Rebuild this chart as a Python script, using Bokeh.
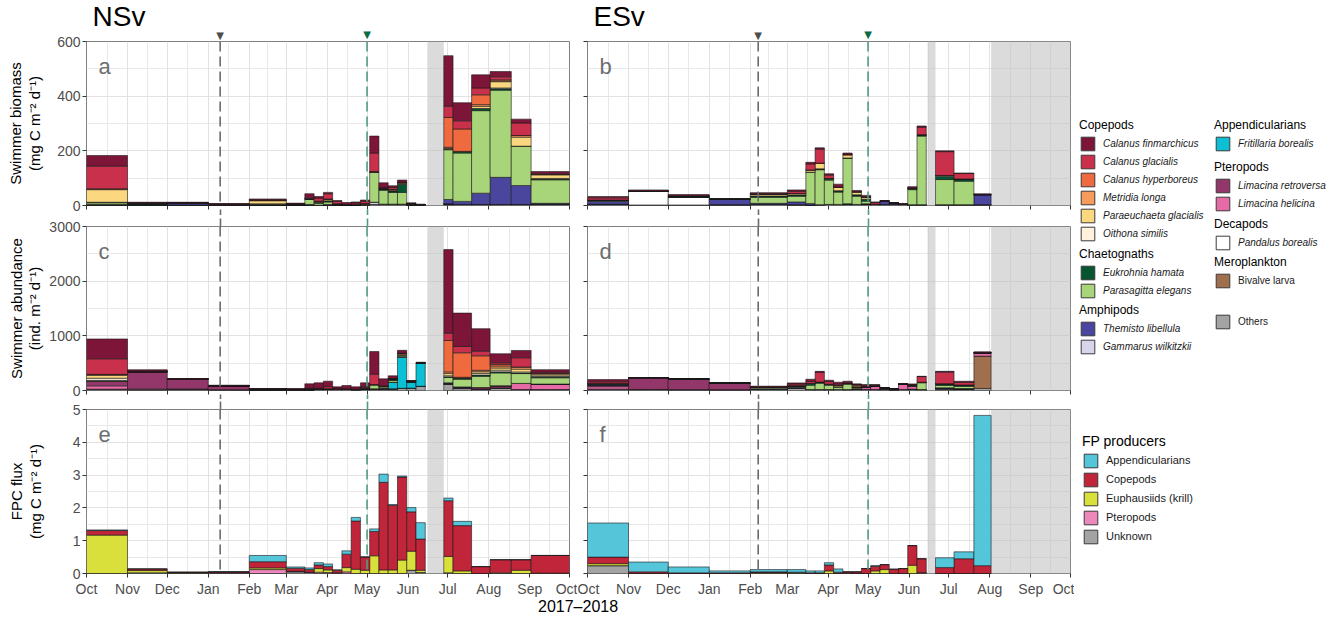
import numpy as np
import pandas as pd
from bokeh.plotting import figure
from bokeh.models import (ColumnDataSource, Range1d, FixedTicker, DatetimeTickFormatter,
                          Label, BoxAnnotation, Span, Legend, LegendItem, Div, LinearAxis,
                          CustomJSTickFormatter)
from bokeh.layouts import row, column
from bokeh.embed import file_html
from bokeh.resources import INLINE

FONT = "Liberation Sans"

# ---------------------------------------------------------------- data
X_START, X_END = "2017-10-01", "2018-10-01"

NSV_START = ["2017-10-01", "2017-11-01", "2017-12-01", "2018-01-01", "2018-02-01", "2018-03-01",
             "2018-03-15", "2018-03-22", "2018-03-29", "2018-04-05", "2018-04-12", "2018-04-19",
             "2018-04-26", "2018-05-03", "2018-05-10", "2018-05-17", "2018-05-24", "2018-05-31",
             "2018-06-07", "2018-06-28", "2018-07-05", "2018-07-19", "2018-08-02", "2018-08-18",
             "2018-09-02"]
NSV_END = ["2017-11-01", "2017-12-01", "2018-01-01", "2018-02-01", "2018-03-01", "2018-03-15",
           "2018-03-22", "2018-03-29", "2018-04-05", "2018-04-12", "2018-04-19", "2018-04-26",
           "2018-05-03", "2018-05-10", "2018-05-17", "2018-05-24", "2018-05-31", "2018-06-07",
           "2018-06-14", "2018-07-05", "2018-07-19", "2018-08-02", "2018-08-18", "2018-09-02",
           "2018-10-01"]
ESV_START = ["2017-10-01", "2017-11-01", "2017-12-01", "2018-01-01", "2018-02-01", "2018-03-01",
             "2018-03-15", "2018-03-22", "2018-03-29", "2018-04-05", "2018-04-12", "2018-04-19",
             "2018-04-26", "2018-05-03", "2018-05-10", "2018-05-17", "2018-05-24", "2018-05-31",
             "2018-06-07", "2018-06-21", "2018-07-05", "2018-07-20"]
ESV_END = ["2017-11-01", "2017-12-01", "2018-01-01", "2018-02-01", "2018-03-01", "2018-03-15",
           "2018-03-22", "2018-03-29", "2018-04-05", "2018-04-12", "2018-04-19", "2018-04-26",
           "2018-05-03", "2018-05-10", "2018-05-17", "2018-05-24", "2018-05-31", "2018-06-07",
           "2018-06-14", "2018-07-05", "2018-07-20", "2018-08-02"]

NSV_LINES = [("2018-01-10", "#6b6b6b", "#4d4d4d"), ("2018-05-01", "#4f9c80", "#0b6b45")]
ESV_LINES = [("2018-02-07", "#6b6b6b", "#4d4d4d"), ("2018-05-01", "#4f9c80", "#0b6b45")]
NSV_NODATA = [("2018-06-16", "2018-06-28")]
ESV_NODATA = [("2018-06-15", "2018-06-21"), ("2018-08-02", "2018-10-01")]

SPECIES = ["Calanus finmarchicus", "Calanus glacialis", "Calanus hyperboreus", "Metridia longa",
           "Paraeuchaeta glacialis", "Oithona similis", "Eukrohnia hamata", "Parasagitta elegans",
           "Themisto libellula", "Gammarus wilkitzkii", "Fritillaria borealis",
           "Limacina retroversa", "Limacina helicina", "Pandalus borealis", "Bivalve larva", "Others"]
SPECIES_COLORS = ["#7d1538", "#c9304b", "#ef6a3f", "#f59c5c", "#fbd87f", "#fff1dc", "#075530",
                  "#a8d47a", "#4b469d", "#d8d5ea", "#0bbfd4", "#93366a", "#e56aa6", "#ffffff",
                  "#a0704e", "#a3a3a3"]

FP_GROUPS = ["Appendicularians", "Copepods", "Euphausiids (krill)", "Pteropods", "Unknown"]
FP_COLORS = ["#55c5da", "#c0253a", "#d9e03c", "#ec88bb", "#a3a3a3"]

NSV_BIOMASS = {
    "Calanus finmarchicus": [39, 3, 2, 3, 3, 3, 15, 6, 5, 3, 7, 4, 5, 62, 17, 6, 8, 3, 2, 185, 66, 48, 19, 14, 8],
    "Calanus glacialis": [83, 0, 0, 0, 3, 0, 3, 11, 19, 9, 2, 5, 8, 68, 3, 7, 2, 0, 0, 41, 30, 25, 11, 46, 3],
    "Calanus hyperboreus": [0, 0, 0, 0, 0, 0, 0, 0, 0, 0, 0, 0, 0, 0, 0, 0, 0, 0, 0, 109, 82, 36, 4, 0, 0],
    "Metridia longa": [3, 2, 0, 0, 0, 0, 0, 2, 2, 0, 0, 0, 0, 2, 0, 3, 0, 0, 0, 4, 0, 6, 3, 6, 0],
    "Paraeuchaeta glacialis": [46, 0, 0, 0, 12, 0, 0, 3, 5, 0, 0, 0, 2, 0, 3, 3, 5, 0, 0, 3, 0, 8, 23, 33, 14],
    "Oithona similis": [0, 0, 0, 0, 0, 0, 0, 0, 0, 0, 0, 0, 0, 0, 0, 0, 0, 0, 0, 0, 0, 0, 3, 0, 2],
    "Eukrohnia hamata": [2, 3, 0, 0, 0, 2, 3, 3, 4, 2, 0, 2, 2, 0, 4, 5, 30, 3, 0, 2, 6, 8, 5, 0, 3],
    "Parasagitta elegans": [6, 0, 0, 0, 4, 2, 18, 7, 9, 2, 0, 0, 0, 110, 51, 43, 43, 2, 0, 182, 177, 302, 319, 144, 86],
    "Themisto libellula": [2, 2, 8, 2, 0, 0, 2, 0, 2, 0, 0, 0, 0, 0, 0, 0, 0, 0, 0, 16, 11, 41, 99, 69, 3],
    "Gammarus wilkitzkii": [0, 0, 0, 0, 0, 0, 0, 0, 0, 0, 0, 0, 0, 8, 0, 0, 0, 0, 0, 0, 0, 0, 0, 0, 0],
    "Others": [2, 2, 2, 2, 2, 1.5, 2, 1, 2, 2, 2, 2, 3, 4, 5, 5, 5, 2, 3, 6, 4, 4, 4, 4, 5],
}
NSV_ABUND = {
    "Calanus finmarchicus": [363, 25, 10, 8, 10, 8, 80, 100, 100, 30, 60, 40, 70, 414, 128, 49, 55, 15, 10, 1530, 611, 411, 164, 133, 48],
    "Calanus glacialis": [285, 5, 0, 0, 0, 0, 10, 10, 40, 15, 10, 10, 20, 190, 10, 0, 0, 0, 0, 133, 115, 85, 30, 169, 20],
    "Calanus hyperboreus": [0, 0, 0, 0, 0, 0, 0, 0, 0, 0, 0, 0, 0, 0, 0, 0, 0, 0, 0, 575, 448, 266, 30, 0, 0],
    "Metridia longa": [20, 0, 0, 0, 0, 0, 0, 0, 0, 0, 0, 0, 0, 0, 0, 0, 20, 0, 0, 30, 10, 25, 36, 40, 15],
    "Paraeuchaeta glacialis": [50, 0, 0, 0, 5, 0, 0, 0, 0, 0, 0, 0, 0, 0, 0, 10, 20, 0, 0, 40, 10, 30, 40, 50, 30],
    "Oithona similis": [40, 0, 0, 0, 0, 0, 0, 0, 0, 0, 0, 0, 0, 0, 0, 0, 0, 0, 0, 20, 0, 30, 30, 20, 15],
    "Eukrohnia hamata": [5, 5, 0, 0, 6, 5, 8, 10, 0, 0, 0, 0, 0, 5, 10, 26, 10, 15, 0, 10, 16, 24, 20, 10, 20],
    "Parasagitta elegans": [10, 0, 0, 0, 0, 5, 12, 0, 10, 0, 0, 0, 20, 73, 25, 33, 20, 0, 0, 100, 140, 206, 236, 180, 115],
    "Themisto libellula": [5, 5, 0, 0, 0, 0, 0, 0, 0, 0, 0, 0, 0, 0, 0, 0, 0, 0, 0, 10, 10, 0, 0, 0, 0],
    "Gammarus wilkitzkii": [0, 0, 0, 0, 0, 0, 0, 0, 0, 0, 0, 0, 0, 5, 0, 0, 0, 0, 0, 0, 0, 0, 0, 0, 0],
    "Fritillaria borealis": [0, 0, 0, 0, 0, 0, 0, 0, 0, 0, 0, 0, 0, 0, 10, 120, 570, 110, 430, 0, 0, 0, 0, 0, 0],
    "Limacina retroversa": [80, 310, 180, 75, 5, 0, 0, 0, 0, 0, 0, 0, 0, 0, 0, 0, 0, 0, 0, 10, 10, 30, 40, 0, 0],
    "Limacina helicina": [60, 15, 10, 0, 0, 0, 0, 0, 0, 0, 0, 0, 0, 0, 0, 0, 0, 0, 0, 10, 10, 0, 0, 112, 100],
    "Others": [25, 15, 18, 14, 10, 12, 12, 20, 20, 22, 21, 17, 30, 25, 30, 30, 40, 43, 77, 110, 36, 24, 46, 18, 18],
}
ESV_BIOMASS = {
    "Calanus finmarchicus": [5, 4, 5, 0, 4, 5, 6, 5, 5, 11, 6, 5, 6, 2, 2, 0, 2, 6, 5, 3, 2, 3],
    "Calanus glacialis": [8, 0, 0, 0, 2, 8, 22, 51, 12, 0, 0, 0, 0, 6, 0, 0, 0, 0, 27, 87, 20, 0],
    "Paraeuchaeta glacialis": [0, 0, 0, 0, 6, 5, 8, 21, 0, 13, 12, 11, 8, 0, 0, 0, 0, 0, 0, 0, 0, 0],
    "Oithona similis": [0, 0, 0, 0, 0, 0, 0, 0, 0, 0, 0, 0, 0, 0, 0, 0, 0, 0, 0, 3, 0, 0],
    "Eukrohnia hamata": [3, 0, 5, 0, 5, 5, 0, 3, 6, 5, 0, 5, 7, 0, 0, 0, 0, 5, 5, 12, 8, 0],
    "Parasagitta elegans": [2, 0, 0, 0, 22, 21, 115, 128, 89, 45, 168, 30, 10, 0, 0, 0, 0, 55, 251, 92, 86, 0],
    "Themisto libellula": [10, 0, 0, 20, 4, 10, 5, 0, 0, 0, 0, 0, 0, 0, 12, 6, 0, 0, 0, 0, 0, 37],
    "Pandalus borealis": [0, 51, 28, 0, 0, 0, 0, 0, 0, 0, 0, 0, 0, 0, 0, 0, 0, 0, 0, 0, 0, 0],
    "Others": [5, 2, 2, 3, 4, 3, 2, 3, 4, 4, 6, 4, 6, 5, 4, 4, 4, 3, 3, 3, 3, 3],
}
ESV_ABUND = {
    "Calanus finmarchicus": [40, 0, 0, 0, 20, 20, 42, 18, 24, 36, 36, 10, 30, 0, 0, 0, 10, 15, 5, 15, 20, 15],
    "Calanus glacialis": [30, 0, 0, 0, 0, 30, 36, 175, 48, 24, 0, 0, 10, 15, 0, 0, 0, 0, 103, 212, 48, 0],
    "Calanus hyperboreus": [0, 0, 0, 0, 0, 0, 0, 0, 0, 0, 0, 20, 0, 0, 0, 0, 0, 0, 0, 0, 0, 0],
    "Metridia longa": [0, 0, 0, 0, 0, 0, 0, 0, 0, 0, 0, 22, 0, 0, 0, 0, 0, 0, 0, 0, 0, 0],
    "Paraeuchaeta glacialis": [0, 0, 0, 0, 0, 0, 0, 0, 0, 24, 0, 0, 0, 0, 0, 0, 0, 0, 0, 0, 0, 0],
    "Eukrohnia hamata": [15, 0, 0, 0, 10, 15, 30, 24, 19, 0, 18, 15, 0, 0, 0, 0, 7, 0, 10, 30, 25, 0],
    "Parasagitta elegans": [0, 0, 0, 0, 20, 15, 80, 115, 79, 48, 97, 20, 0, 0, 0, 0, 0, 20, 124, 45, 40, 0],
    "Themisto libellula": [20, 0, 0, 0, 10, 20, 0, 0, 0, 0, 0, 0, 0, 0, 0, 0, 0, 0, 0, 10, 0, 0],
    "Limacina retroversa": [25, 218, 190, 120, 0, 0, 0, 0, 0, 0, 0, 0, 0, 0, 30, 12, 0, 0, 0, 0, 0, 10],
    "Limacina helicina": [45, 0, 0, 0, 0, 0, 0, 0, 0, 0, 0, 10, 48, 70, 0, 0, 92, 60, 0, 10, 10, 55],
    "Bivalve larva": [0, 0, 0, 0, 0, 0, 0, 0, 0, 0, 0, 0, 0, 0, 0, 0, 0, 0, 0, 0, 0, 590],
    "Others": [25, 18, 16, 13, 19, 39, 18, 18, 18, 19, 18, 24, 21, 18, 18, 12, 18, 26, 18, 29, 26, 38],
}
NSV_FPC = {
    "Unknown": [0, 0.02, 0.01, 0.02, 0, 0.05, 0.04, 0, 0, 0, 0, 0, 0, 0, 0, 0, 0, 0.1, 0.03, 0.02, 0, 0, 0, 0, 0],
    "Pteropods": [0, 0, 0, 0, 0.12, 0.02, 0, 0.04, 0.03, 0.02, 0.05, 0, 0, 0, 0, 0, 0, 0, 0, 0, 0, 0, 0, 0, 0],
    "Euphausiids (krill)": [1.17, 0.07, 0.01, 0, 0.05, 0, 0, 0.11, 0.08, 0, 0.13, 0.13, 0.1, 0.54, 0.11, 0.11, 0.41, 0.58, 0.07, 0.5, 0.08, 0, 0.02, 0.1, 0.01],
    "Copepods": [0.14, 0.05, 0.02, 0.03, 0.19, 0.09, 0.08, 0.11, 0.1, 0.08, 0.41, 1.47, 0.4, 0.74, 2.67, 1.97, 2.53, 1.2, 0.95, 1.7, 1.38, 0.21, 0.4, 0.32, 0.54],
    "Appendicularians": [0.02, 0, 0, 0.01, 0.19, 0.04, 0.05, 0.07, 0.08, 0.01, 0.1, 0.11, 0.01, 0.08, 0.25, 0.02, 0.03, 0.13, 0.5, 0.08, 0.13, 0, 0, 0, 0],
}
ESV_FPC = {
    "Unknown": [0.24, 0, 0, 0, 0.01, 0, 0, 0, 0, 0, 0.01, 0, 0, 0, 0, 0, 0, 0, 0.02, 0, 0, 0],
    "Euphausiids (krill)": [0.06, 0, 0, 0, 0.02, 0.02, 0, 0, 0.08, 0, 0, 0, 0, 0.08, 0.12, 0, 0, 0.25, 0, 0, 0, 0],
    "Copepods": [0.2, 0.05, 0.02, 0.02, 0.02, 0.02, 0.02, 0.02, 0.18, 0.04, 0.04, 0.05, 0.15, 0.14, 0.15, 0.13, 0.15, 0.6, 0.43, 0.18, 0.45, 0.24],
    "Appendicularians": [1.04, 0.3, 0.18, 0.06, 0.07, 0.08, 0.06, 0.06, 0.07, 0.1, 0, 0, 0, 0.02, 0, 0, 0, 0, 0, 0.3, 0.21, 4.58],
}

Y_TITLES = ["Swimmer biomass\n(mg C m\u207b\u00b2 d\u207b\u00b9)",
            "Swimmer abundance\n(ind. m\u207b\u00b2 d\u207b\u00b9)",
            "FPC flux\n(mg C m\u207b\u00b2 d\u207b\u00b9)"]
Y_MAX = [600, 3000, 5]
Y_STEP = [200, 1000, 1]
PANEL_LETTERS = [["a", "b"], ["c", "d"], ["e", "f"]]
STATIONS = ["NSv", "ESv"]


# ---------------------------------------------------------------- helpers
def ms(d):
    return pd.Timestamp(d).value / 1e6


XS, XE = ms(X_START), ms(X_END)
months = pd.date_range(X_START, X_END, freq="MS")
MONTH_MS = [ms(m) for m in months]
MID_MS = [(a + b) / 2 for a, b in zip(MONTH_MS[:-1], MONTH_MS[1:])]

FRAME_W, FRAME_H = 483, 164
TOPB = [41, 11, 10]
BOTB = [10, 9, 26]
YLAB_STANDOFF = [11, 3, 26]


def make_source(starts, ends, data, keys):
    s = [ms(d) for d in starts]
    e = [ms(d) for d in ends]
    n = len(s)
    cols = {"mid": [(a + b) / 2 for a, b in zip(s, e)], "w": [b - a for a, b in zip(s, e)]}
    for k in keys:
        cols[k] = list(data.get(k, [0] * n))
    return ColumnDataSource(cols)


def add_gap_dashes(p, lines, side, length):
    # dashed continuation of the event lines through the gaps between panels
    for d, lc, tc in lines:
        ax = LinearAxis(ticker=FixedTicker(ticks=[ms(d)]))
        ax.axis_line_color = None
        ax.minor_tick_line_color = None
        ax.major_label_text_color = None
        ax.major_label_standoff = 0
        ax.major_tick_out = 0
        ax.major_tick_in = -length
        ax.major_tick_line_color = lc
        ax.major_tick_line_width = 1.6
        ax.major_tick_line_dash = "8 4"
        p.add_layout(ax, side)


def make_fig(ci, ri):
    left = ci == 0
    ymax, ystep = Y_MAX[ri], Y_STEP[ri]
    p = figure(x_axis_type="datetime", x_range=Range1d(XS, XE), y_range=Range1d(0, ymax),
               frame_width=FRAME_W, frame_height=FRAME_H,
               min_border_left=86 if left else 10, min_border_right=8 if left else 4,
               min_border_top=TOPB[ri], min_border_bottom=BOTB[ri],
               toolbar_location=None, output_backend="svg")
    p.outline_line_color = "#808080"
    p.outline_line_width = 1
    p.background_fill_color = "white"
    p.border_fill_color = "white"
    yt = list(np.arange(0, ymax + ystep / 2, ystep))
    ym = [v + ystep / 2 for v in yt[:-1]]
    p.xaxis.ticker = FixedTicker(ticks=MONTH_MS, minor_ticks=MID_MS)
    p.xaxis.formatter = DatetimeTickFormatter(months="%b", days="%b", years="%b", hours="%b")
    p.yaxis.ticker = FixedTicker(ticks=yt, minor_ticks=ym)
    for ax in (p.xaxis[0], p.yaxis[0]):
        ax.axis_line_color = None
        ax.major_tick_line_color = "#333333"
        ax.major_tick_out = 4
        ax.major_tick_in = 0
        ax.minor_tick_line_color = None
        ax.major_label_text_color = "#4d4d4d"
        ax.major_label_text_font = FONT
        ax.major_label_text_font_size = "14px"
    p.xaxis.major_label_standoff = 3
    p.yaxis.major_label_standoff = 2
    lines = NSV_LINES if left else ESV_LINES
    if ri < 2:
        p.xaxis.major_label_text_color = None
        p.xaxis.major_label_standoff = 0
        p.xaxis.major_tick_out = 0
        p.xaxis.major_tick_in = -4
        add_gap_dashes(p, lines, "below", 14)
    if ri > 0:
        add_gap_dashes(p, lines, "above", 14)
    if not left:
        p.yaxis.major_label_text_color = None
        p.yaxis.major_label_standoff = 0
    else:
        p.yaxis.axis_label = Y_TITLES[ri]
        p.yaxis.axis_label_text_font = FONT
        p.yaxis.axis_label_text_font_size = "15px"
        p.yaxis.axis_label_text_font_style = "normal"
        p.yaxis.axis_label_text_color = "black"
        p.yaxis.axis_label_text_line_height = 1.1
        p.yaxis.axis_label_standoff = YLAB_STANDOFF[ri]
    for g in (p.xgrid[0], p.ygrid[0]):
        g.grid_line_color = "#e2e2e2"
        g.grid_line_width = 1
        g.minor_grid_line_color = "#e2e2e2"
        g.minor_grid_line_width = 0.8

    # no-data shading
    for a, b in (NSV_NODATA if left else ESV_NODATA):
        p.add_layout(BoxAnnotation(left=ms(a), right=ms(b), fill_color="#bdbdbd", fill_alpha=0.55,
                                   line_color=None, level="underlay"))

    # panel letter
    p.add_layout(Label(x=XS, y=ymax, x_offset=12, y_offset=-25, text=PANEL_LETTERS[ri][ci],
                       text_font=FONT, text_font_size="22px", text_color="#6e6e6e",
                       text_baseline="alphabetic"))

    # dashed event lines
    for d, lc, tc in lines:
        p.add_layout(Span(location=ms(d), dimension="height", line_color=lc,
                          line_dash="10 5", line_width=1.6))

    if ri == 0:
        # event markers above the panel, as tick labels of top axes
        for k, (d, lc, tc) in enumerate(lines):
            ax = LinearAxis(ticker=FixedTicker(ticks=[ms(d)]),
                            formatter=CustomJSTickFormatter(code="return '\u25bc'"))
            ax.axis_line_color = None
            ax.major_tick_line_color = None
            ax.minor_tick_line_color = None
            ax.major_tick_out = 0
            ax.major_tick_in = 0
            ax.major_label_text_font = "DejaVu Sans"
            ax.major_label_text_font_size = "10px"
            ax.major_label_text_color = tc
            ax.major_label_standoff = 1 if k == 0 else -13
            p.add_layout(ax, "above")
        p.title.text = STATIONS[ci]
        p.title.text_font = FONT
        p.title.text_font_size = "28px"
        p.title.text_font_style = "normal"
        p.title.text_color = "black"
        p.title.align = "left"
        p.title.offset = 6
        p.title.standoff = -13
    return p


def draw_stack(p, src, keys, colors):
    order = list(reversed(keys))
    cols = list(reversed(colors))
    p.vbar_stack(order, x="mid", width="w", source=src, fill_color=cols,
                 line_color="#1a1a1a", line_width=0.6)


panels = [[None, None], [None, None], [None, None]]
station_data = [
    (NSV_START, NSV_END, [NSV_BIOMASS, NSV_ABUND, NSV_FPC]),
    (ESV_START, ESV_END, [ESV_BIOMASS, ESV_ABUND, ESV_FPC]),
]
for ci, (st, en, dsets) in enumerate(station_data):
    for ri in range(3):
        p = make_fig(ci, ri)
        if ri < 2:
            src = make_source(st, en, dsets[ri], SPECIES)
            draw_stack(p, src, SPECIES, SPECIES_COLORS)
        else:
            src = make_source(st, en, dsets[ri], FP_GROUPS)
            draw_stack(p, src, FP_GROUPS, FP_COLORS)
        panels[ri][ci] = p

# ---------------------------------------------------------------- legends
LEG_W, LEG_H = 258, 599
leg = figure(width=LEG_W, height=LEG_H, x_range=Range1d(0, 1), y_range=Range1d(0, 1),
             x_axis_location=None, y_axis_location=None, min_border=0,
             toolbar_location=None, output_backend="svg")
leg.outline_line_color = None
leg.grid.visible = False

LEG_X0, LEG_Y0 = 1074, 0


def add_legend(title, names, colors, page_x, page_top, italic=True, title_size="12px",
               label_size="10px", spacing=1):
    items = []
    for n, c in zip(names, colors):
        r = leg.quad(left=[np.nan], right=[np.nan], top=[np.nan], bottom=[np.nan],
                     fill_color=c, line_color="#3a3a3a", line_width=1)
        items.append(LegendItem(label=n, renderers=[r]))
    nrows = len(names)
    th = (int(title_size[:-2]) * 1.2 + 3) if title else 0
    h = th + nrows * 17 + (nrows - 1) * spacing
    loc = (page_x - LEG_X0, LEG_H - (page_top - LEG_Y0) - h)
    lg = Legend(items=items, location=loc, title=title, padding=0, margin=0, spacing=spacing,
                glyph_width=17, glyph_height=17, label_height=17, label_standoff=7,
                border_line_color=None, background_fill_alpha=0,
                label_text_font=FONT, label_text_font_size=label_size,
                label_text_font_style="italic" if italic else "normal", label_text_color="#1a1a1a",
                title_text_font=FONT, title_text_font_size=title_size, title_text_font_style="normal",
                title_text_color="black", title_standoff=3)
    leg.add_layout(lg)


add_legend("Copepods", SPECIES[:6], SPECIES_COLORS[:6], 1079, 118)
add_legend("Chaetognaths", SPECIES[6:8], SPECIES_COLORS[6:8], 1079, 247)
add_legend("Amphipods", SPECIES[8:10], SPECIES_COLORS[8:10], 1079, 303)
add_legend("Appendicularians", SPECIES[10:11], SPECIES_COLORS[10:11], 1214, 118)
add_legend("Pteropods", SPECIES[11:13], SPECIES_COLORS[11:13], 1214, 160)
add_legend("Decapods", SPECIES[13:14], SPECIES_COLORS[13:14], 1214, 217)
add_legend("Meroplankton", SPECIES[14:15], SPECIES_COLORS[14:15], 1214, 255, italic=False)
add_legend(None, SPECIES[15:16], SPECIES_COLORS[15:16], 1214, 313, italic=False)
add_legend("FP producers", FP_GROUPS, FP_COLORS, 1082, 432, italic=False, title_size="14px",
           label_size="11px", spacing=2)

xlabel = Div(text="2017\u20132018", width=90, height=10, margin=(0, 0, 0, 538),
             styles={"font-family": FONT, "font-size": "16px", "line-height": "16px",
                     "color": "black", "white-space": "nowrap", "overflow": "visible"})

grid = column(row(panels[0][0], panels[0][1]), row(panels[1][0], panels[1][1]),
              row(panels[2][0], panels[2][1]), xlabel)
layout = row(grid, leg)

open("out.html", "w").write(file_html(layout, INLINE))
